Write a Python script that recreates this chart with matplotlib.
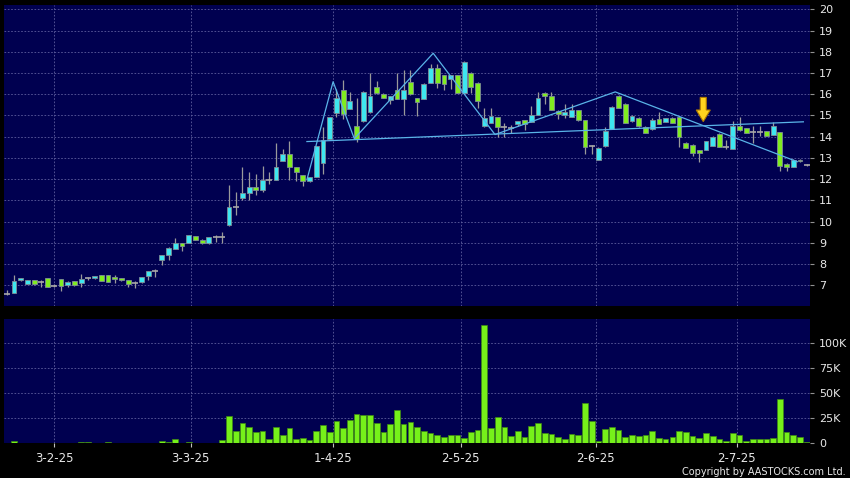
import numpy as np
import pandas as pd
import matplotlib
matplotlib.use('Agg')
import matplotlib.pyplot as plt

# Data (one entry per trading day)
opens = [6.59, 6.62, 7.23, 7.08, 7.23, 7.14, 7.33, 6.95, 7.28, 6.99,
         7.19, 7.09, 7.33, 7.33, 7.47, 7.47, 7.38, 7.33, 7.23, 7.12,
         7.14, 7.45, 7.69, 8.18, 8.41, 8.73, 8.97, 9.00, 9.30, 9.14,
         8.98, 9.25, 9.25, 9.83, 10.68, 11.11, 11.35, 11.63, 11.49, 11.96,
         11.96, 12.86, 13.17, 12.57, 12.18, 11.91, 12.10, 12.76, 13.89, 15.12,
         16.19, 15.31, 14.49, 14.73, 15.15, 16.34, 16.02, 15.75, 16.19, 15.78,
         16.57, 15.82, 15.78, 16.54, 17.23, 16.89, 16.73, 16.89, 16.07, 17.01,
         16.54, 14.52, 14.65, 14.93, 14.47, 14.41, 14.60, 14.78, 14.70, 15.04,
         16.07, 15.91, 15.23, 15.01, 14.93, 15.25, 14.78, 13.55, 12.92, 13.55,
         14.37, 15.94, 15.56, 14.73, 14.89, 14.46, 14.34, 14.84, 14.70, 14.89,
         14.93, 13.71, 13.63, 13.36, 13.39, 13.58, 14.13, 13.52, 13.42, 14.49,
         14.41, 14.21, 14.21, 14.26, 14.10, 14.21, 12.73, 12.57, 12.90, 12.68]
closes = [6.59, 7.19, 7.33, 7.23, 7.04, 7.14, 6.93, 6.95, 6.98, 7.14,
          6.99, 7.28, 7.33, 7.42, 7.22, 7.17, 7.28, 7.23, 7.08, 7.12,
          7.38, 7.66, 7.69, 8.41, 8.76, 8.97, 8.87, 9.36, 9.14, 8.98,
          9.27, 9.25, 9.25, 10.68, 10.68, 11.35, 11.63, 11.49, 11.96, 11.96,
          12.57, 13.17, 12.57, 12.34, 11.91, 12.10, 13.55, 13.83, 14.92, 15.83,
          15.09, 15.70, 13.89, 16.11, 15.91, 16.04, 15.83, 15.91, 15.78, 16.22,
          15.99, 15.64, 16.49, 17.23, 16.54, 16.46, 16.89, 16.07, 17.53, 16.35,
          15.67, 14.86, 14.99, 14.46, 14.47, 14.41, 14.73, 14.60, 15.01, 15.83,
          15.94, 15.28, 15.09, 15.17, 15.25, 14.78, 13.50, 13.55, 13.47, 14.29,
          15.41, 15.36, 14.65, 14.99, 14.49, 14.18, 14.78, 14.62, 14.87, 14.65,
          13.99, 13.47, 13.23, 13.23, 13.79, 13.99, 13.52, 13.52, 14.52, 14.30,
          14.18, 14.21, 14.21, 14.05, 14.49, 12.63, 12.57, 12.92, 12.84, 12.68]
highs = [6.78, 7.49, 7.36, 7.25, 7.25, 7.25, 7.35, 7.06, 7.30, 7.20,
         7.21, 7.53, 7.41, 7.44, 7.49, 7.49, 7.47, 7.35, 7.25, 7.22,
         7.40, 7.68, 7.75, 8.43, 8.78, 9.22, 8.99, 9.38, 9.32, 9.16,
         9.29, 9.38, 9.52, 11.74, 11.39, 12.56, 12.32, 12.24, 12.63, 12.32,
         13.71, 13.44, 13.81, 12.59, 12.20, 12.12, 13.57, 14.46, 14.94, 16.23,
         16.67, 16.10, 15.83, 16.13, 17.01, 16.62, 16.04, 15.93, 17.01, 17.14,
         17.14, 15.84, 16.54, 17.41, 17.41, 16.91, 16.91, 16.91, 17.55, 17.03,
         16.56, 15.36, 15.36, 14.95, 14.65, 14.57, 14.75, 14.80, 15.44, 16.10,
         16.09, 16.10, 15.25, 15.56, 15.56, 15.27, 14.80, 13.60, 13.49, 14.46,
         15.43, 15.96, 15.58, 15.01, 14.91, 14.48, 14.90, 15.15, 14.89, 14.91,
         14.95, 13.73, 13.65, 13.38, 13.81, 14.01, 14.15, 13.83, 14.75, 14.93,
         14.43, 14.49, 14.49, 14.28, 14.70, 14.23, 12.75, 12.94, 12.95, 12.72]
lows = [6.56, 6.62, 7.21, 7.06, 7.02, 6.93, 6.91, 6.90, 6.75, 6.90,
        6.97, 6.93, 7.25, 7.31, 7.20, 7.15, 7.12, 7.21, 6.93, 6.89,
        7.12, 7.25, 7.41, 7.94, 8.19, 8.71, 8.59, 8.98, 9.12, 8.96,
        8.96, 9.06, 8.98, 9.81, 10.32, 11.03, 11.03, 11.27, 11.37, 11.79,
        11.94, 12.84, 11.97, 11.90, 11.66, 11.85, 12.08, 12.26, 13.87, 14.93,
        14.81, 15.29, 13.74, 14.71, 15.13, 16.02, 15.81, 15.52, 15.76, 15.04,
        15.97, 14.97, 15.76, 16.52, 16.30, 16.20, 16.23, 16.05, 16.05, 16.05,
        15.36, 14.45, 14.63, 13.99, 13.99, 14.18, 14.49, 14.33, 14.68, 15.02,
        15.56, 15.26, 14.84, 14.89, 14.91, 14.76, 13.20, 13.20, 12.90, 13.53,
        14.35, 15.34, 14.63, 14.71, 14.47, 14.16, 14.32, 14.60, 14.68, 14.63,
        13.53, 13.45, 13.07, 12.79, 13.37, 13.56, 13.50, 13.42, 13.40, 14.28,
        14.16, 13.70, 14.02, 14.03, 14.08, 12.40, 12.40, 12.55, 12.82, 12.64]
# volume in thousands of shares
volumes = [0.7, 2.3, 0.3, 0.7, 0.2, 0.7, 0.3, 0.2, 0.3, 0.5,
           0.5, 1.7, 1.0, 0.7, 0.7, 1.3, 0.7, 0.7, 0.7, 0.7,
           0.5, 0.7, 0.7, 2.7, 1.7, 4.3, 0.7, 1.3, 0.7, 0.7,
           0.7, 0.7, 3.0, 27.7, 12.7, 20.3, 16.0, 11.7, 12.7, 4.3,
           16.7, 8.7, 15.3, 4.3, 5.0, 3.3, 12.0, 18.7, 11.0, 22.0,
           15.0, 23.7, 29.3, 28.3, 28.3, 20.0, 11.0, 19.7, 33.7, 19.3,
           21.7, 16.7, 12.7, 10.7, 8.3, 6.7, 8.0, 8.7, 5.0, 11.3,
           13.3, 118.3, 15.3, 26.0, 16.7, 7.3, 12.7, 6.0, 17.3, 20.3,
           10.0, 9.3, 6.0, 4.0, 9.3, 8.0, 40.7, 22.7, 2.7, 14.3,
           16.0, 13.3, 6.0, 8.3, 7.7, 8.3, 12.0, 5.3, 4.0, 6.3,
           12.3, 11.3, 7.3, 5.3, 10.0, 7.0, 4.3, 2.7, 10.0, 8.3,
           2.7, 4.3, 4.0, 4.0, 5.3, 44.0, 11.0, 8.7, 6.0, 1.7]

date_labels = ['3-2-25', '3-3-25', '1-4-25', '2-5-25', '2-6-25', '2-7-25']
date_pos = [6.95, 27.3, 48.5, 67.5, 87.6, 108.6]

# pattern lines drawn on the chart (index, price)
zigzag_x = [44.6, 48.5, 51.65, 63.4, 72.6, 90.5, 117.6]
zigzag_y = [11.97, 16.59, 13.91, 17.93, 14.10, 16.11, 12.82]
neck_x = [44.6, 118.5]
neck_y = [13.77, 14.70]

# yellow arrow marker
arrow_idx = 103.6
arrow_tip = 14.71
arrow_top = 15.85

df = pd.DataFrame({'open': opens, 'high': highs, 'low': lows,
                   'close': closes, 'vol': volumes})
df['idx'] = np.arange(len(df))

BG = '#000050'
FIG_BG = '#000000'
UP = '#3EE6F0'
DOWN = '#80EC20'
DOJI = '#A8A8A8'
WICK = '#9A9A9A'
GRID = '#5E5E9E'
TXT = '#E8E8E8'
LINE = '#5AB4E8'

plt.rcParams['font.family'] = ['DejaVu Sans']

fig = plt.figure(figsize=(8.5, 4.78), dpi=100, facecolor=FIG_BG)
ax = fig.add_axes([0.0047, 0.3600, 0.9488, 0.6289], facecolor=BG)
axv = fig.add_axes([0.0047, 0.0726, 0.9488, 0.2600], facecolor=BG, sharex=ax)


def style_axis(a):
    for s in a.spines.values():
        s.set_visible(False)
    a.yaxis.tick_right()
    a.tick_params(axis='y', colors='#909090', length=3, width=0.8, pad=3,
                  labelcolor=TXT, labelsize=8)
    a.set_axisbelow(True)
    a.grid(True, color=GRID, linestyle=(0, (2, 2)), linewidth=0.6)


style_axis(ax)
style_axis(axv)

# Candles
doji = (df.close - df.open).abs() < 0.02
ax.vlines(df.idx, df.low, df.high, color=WICK, linewidth=0.9, zorder=2)

body = df[~doji]
colors = np.where(body.close > body.open, UP, DOWN)
ax.bar(body.idx, body.close - body.open, bottom=body.open, width=0.72,
       color=colors, edgecolor='#7D8C96', linewidth=0.6, zorder=3)
dj = df[doji]
ax.hlines(dj.close, dj.idx - 0.45, dj.idx + 0.45, color=DOJI, linewidth=1.2, zorder=3)

# Pattern lines
ax.plot(zigzag_x, zigzag_y, color=LINE, linewidth=0.9, zorder=4)
ax.plot(neck_x, neck_y, color=LINE, linewidth=0.9, zorder=4)

# Arrow
head_len = (arrow_top - arrow_tip) * 0.48
sw, hw = 0.45, 1.05
ax_x = [arrow_idx - sw, arrow_idx + sw, arrow_idx + sw, arrow_idx + hw,
        arrow_idx, arrow_idx - hw, arrow_idx - sw]
ax_y = [arrow_top, arrow_top, arrow_tip + head_len, arrow_tip + head_len,
        arrow_tip, arrow_tip + head_len, arrow_tip + head_len]
ax.fill(ax_x, ax_y, facecolor='#FFD21E', edgecolor='#B07A00', linewidth=0.8, zorder=5)

ax.set_ylim(6.025, 20.19)
ax.set_yticks(range(7, 21))
ax.set_xlim(-0.49, 119.56)
ax.set_xticks(date_pos)
ax.tick_params(axis='x', length=0, labelbottom=False)

# Volume
axv.bar(df.idx, df.vol, width=0.85, color='#76F01A', edgecolor='#3F8A12',
        linewidth=0.5, zorder=3)
axv.set_ylim(0, 124.3)
axv.set_yticks([0, 25, 50, 75, 100])
axv.set_yticklabels(['0', '25K', '50K', '75K', '100K'])
axv.tick_params(axis='x', colors='#C0C0C0', length=3, width=0.8, pad=3,
                labelcolor=TXT, labelsize=8.5)
axv.set_xticks(date_pos)
axv.set_xticklabels(date_labels)

fig.text(0.995, 0.003, 'Copyright by AASTOCKS.com Ltd.', color=TXT,
         fontsize=7.0, ha='right', va='bottom')

fig.savefig('out.png', dpi=100, facecolor=FIG_BG)
